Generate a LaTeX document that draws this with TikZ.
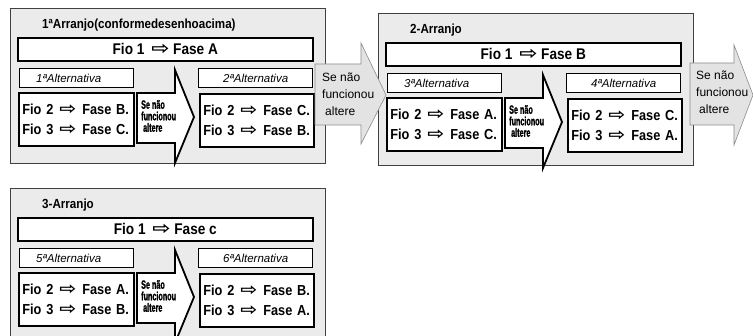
\documentclass[tikz,border=0pt]{standalone}
\usepackage{fontspec}
\usepackage{graphicx}
\setmainfont{Liberation Sans}
\newfontfamily\symfont{DejaVu Sans}
\newfontfamily\condfont[FakeStretch=0.88]{Liberation Sans}
\newfontfamily\narrowfont[FakeStretch=0.6,FakeBold=1.2]{Liberation Sans}
\definecolor{panelgray}{HTML}{EBEBEB}
\newcommand\harr{{\symfont\scalebox{1.4}[1.15]{⇨}}}
\newcommand\fioline[2]{\makebox[37pt][l]{Fio #1}\makebox[23pt][l]{\harr}Fase #2}
\tikzset{
 panelbox/.style={draw=black!75, line width=1.2pt, fill=panelgray, anchor=north west, inner sep=0pt, minimum width=315},
 whitebox/.style={draw=black, line width=1.6pt, fill=white, anchor=north west, inner sep=0pt},
 fiobox/.style={whitebox, minimum width=295, minimum height=23, font=\condfont\fontsize{15.5}{16}\selectfont\bfseries},
 altbox/.style={whitebox, line width=1.4pt, minimum width=114, minimum height=19, font=\fontsize{11.5}{12}\selectfont\itshape},
 contentbox/.style={whitebox, inner xsep=3.5pt, inner ysep=0pt, text width=108pt, minimum height=53, align=left, font=\condfont\fontsize{14.5}{20}\selectfont\bfseries},
 blackarrow/.style={draw=black, line width=1.8pt, fill=white, line join=miter},
 arrowtext/.style={anchor=west, align=left, inner sep=0pt, font=\narrowfont\fontsize{12}{11.5}\selectfont\bfseries},
 grayarrow/.style={draw=black!45, line width=0.6pt, fill=black!11},
 graytext/.style={anchor=west, align=left, inner sep=0pt, font=\fontsize{12}{17}\selectfont},
 titletext/.style={anchor=west, inner sep=0pt, font=\condfont\fontsize{13.2}{15}\selectfont\bfseries},
}
\newcommand\arranjo[9]{%
\begin{scope}[shift={(#2)}]
\node[panelbox, minimum height=#3] (#1-panel) at (10,8) {};
\node[titletext] (#1-title) at (42,25) {#4};
\node[fiobox] (#1-fio) at (17,37) {Fio 1\hspace{3pt} \harr\ Fase #5};
\node[altbox] (#1-altl) at (19,68) {#6ªAlternativa\hspace*{16pt}};
\node[altbox] (#1-altr) at (198,68) {#7ªAlternativa};
\node[contentbox] (#1-left) at (18,92) {#8};
\node[contentbox, text width=107pt] (#1-right) at (199,93) {#9};
\draw[blackarrow] (137,93) -- (175,93) -- (175,70) -- (194,117) -- (175,163) -- (175,143) -- (137,143) -- cycle;
\node[arrowtext] (#1-note) at (141,116) {Se não\\funcionou\\\hspace*{2pt}altere};
\end{scope}}
\begin{document}
\begin{tikzpicture}[x=1pt,y=-1pt]
\useasboundingbox (0,0) rectangle (753,336);
\clip (0,0) rectangle (753,336);
\fill[white] (0,0) rectangle (753,336);
\arranjo{a1}{0,0}{155}{1ªArranjo(conformedesenhoacima)}{A}{1}{2}{\fioline{2}{B.}\\\fioline{3}{C.}}{\fioline{2}{C.}\\\fioline{3}{B.}}
\arranjo{a2}{368,5}{152}{2-Arranjo}{B}{3}{4}{\fioline{2}{A.}\\\fioline{3}{C.}}{\fioline{2}{C.}\\\fioline{3}{A.}}
\draw[grayarrow] (315,64) -- (361,64) -- (361,43) -- (386,95) -- (361,144) -- (361,125) -- (315,125) -- cycle;
\node[graytext] (g1) at (322,94) {Se não\\funcionou\\\hspace*{3pt}altere};
\draw[grayarrow] (690,63) -- (734,63) -- (734,45) -- (753,95) -- (734,145) -- (734,125) -- (690,125) -- cycle;
\node[graytext] (g2) at (696,92) {Se não\\funcionou\\\hspace*{3pt}altere};
\arranjo{a3}{0,180}{200}{3-Arranjo}{c}{5}{6}{\fioline{2}{A.}\\\fioline{3}{B.}}{\fioline{2}{B.}\\\fioline{3}{A.}}
\end{tikzpicture}
\end{document}
